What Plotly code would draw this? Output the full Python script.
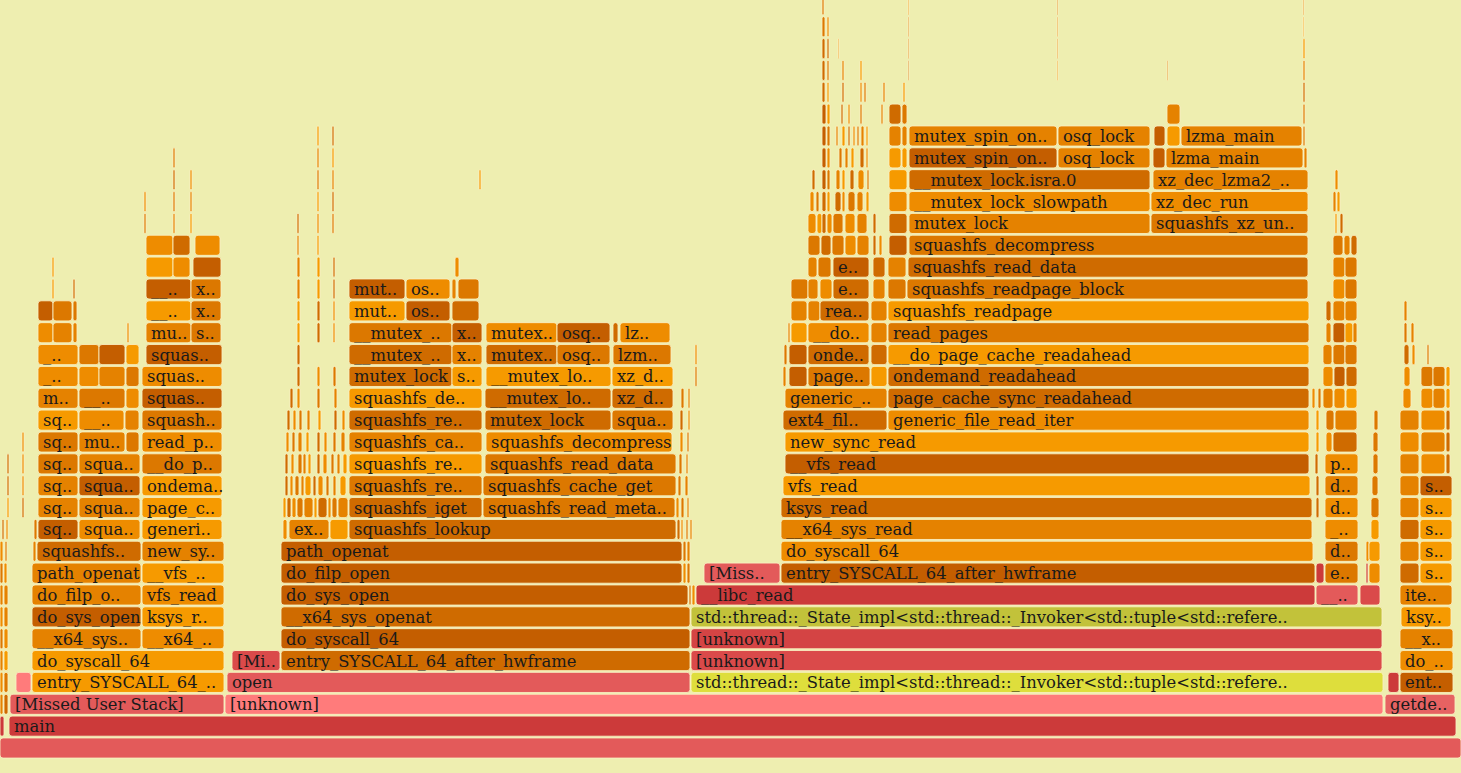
import plotly.graph_objects as go

STD = "std::thread::_State_impl<std::thread::_Invoker<std::tuple<std::refere.."

# Each level: (start_sample, sample_count, frame_name, heat) ; slivers: (start, count)
level_00 = [(0, 1461, "", "R0")]
level_01 = [(0, 4, "", "R1"), (9, 1447, "main", "R1")]
level_02 = [(0, 3, "", "O3"), (4, 4, "", "O5"), (10, 214, "[Missed User Stack]", "R0"),
            (225, 1158, "[unknown]", "R2"), (1385, 70, "getde..", "R5")]
level_03 = [(0, 3, "", "O2"), (4, 4, "", "O4"), (16, 15, "", "R2"), (32, 192, "entry_SYSCALL_64_..", "O1"),
            (227, 463, "open", "R0"), (691, 692, STD, "Y1"), (1388, 11, "", "R1"), (1400, 53, "ent..", "O6")]
level_04 = [(0, 3, "", "O3"), (4, 4, "", "O1"), (32, 192, "do_syscall_64", "O1"), (232, 48, "[Mi..", "R3"),
            (281, 409, "entry_SYSCALL_64_after_hwframe", "O5"), (691, 691, "[unknown]", "R3"),
            (1400, 53, "do_..", "O2")]
level_05 = [(0, 3, "", "O4"), (4, 4, "", "O2"), (32, 109, "__x64_sys..", "O3"), (142, 82, "__x64_..", "O2"),
            (281, 409, "do_syscall_64", "O6"), (691, 691, "[unknown]", "R4"), (1400, 53, "__x..", "O3")]
level_06 = [(0, 3, "", "O2"), (4, 4, "", "O3"), (32, 109, "do_sys_open", "O6"), (142, 82, "ksys_r..", "O1"),
            (281, 409, "__x64_sys_openat", "O5"), (691, 691, STD, "Y2"), (1401, 50, "ksy..", "O1")]
level_07 = [(0, 3, "", "O3"), (4, 4, "", "O3"), (32, 109, "do_filp_o..", "O3"), (142, 82, "vfs_read", "O2"),
            (281, 407, "do_sys_open", "O6"), (689, 2), (692, 3), (696, 619, "__libc_read", "R1"),
            (1316, 42, "__..", "R0"), (1360, 20, "", "R3"), (1400, 52, "ite..", "O3")]
level_08 = [(0, 3, "", "O4"), (4, 3, "", "O2"), (32, 109, "path_openat", "O3"), (142, 82, "__vfs_..", "O1"),
            (281, 401, "do_filp_open", "O6"), (683, 3), (687, 3), (704, 76, "[Miss..", "R0"),
            (781, 534, "entry_SYSCALL_64_after_hwframe", "O6"), (1316, 8, "", "R1"), (1325, 33, "e..", "O4"),
            (1366, 2, "", "R1"), (1369, 11, "", "O2"), (1400, 19, "", "O5"), (1420, 32, "s..", "O1")]
level_09 = [(0, 3), (5, 2), (33, 3), (37, 104, "squashfs..", "O5"), (142, 82, "new_sy..", "O3"),
            (281, 401, "path_openat", "O6"), (683, 3), (687, 3), (781, 532, "do_syscall_64", "O2"),
            (1325, 33, "d..", "O4"), (1366, 3), (1369, 11, "", "O1"), (1400, 19, "", "O3"),
            (1420, 32, "s..", "O1")]
level_10 = [(2, 2), (6, 2), (34, 3), (38, 40, "sq..", "O6"), (79, 61, "squa..", "O2"), (142, 80, "generi..", "O1"),
            (283, 4), (289, 40, "ex..", "O3"), (330, 18, "", "O1"), (349, 327, "squashfs_lookup", "O5"),
            (677, 3), (681, 2), (686, 2), (690, 2), (781, 531, "__x64_sys_read", "O3"),
            (1325, 33, "_..", "O2"), (1371, 8, "", "O1"), (1400, 19, "", "O5"), (1420, 32, "s..", "O1")]
level_11 = [(7, 2), (22, 2), (38, 40, "sq..", "O3"), (79, 61, "squa..", "O3"), (142, 80, "page_c..", "O1"),
            (283, 3), (287, 4), (292, 4), (297, 6), (304, 9), (314, 3), (318, 9), (328, 3), (332, 5), (338, 10),
            (349, 133, "squashfs_iget", "O5"), (483, 192, "squashfs_read_meta..", "O4"), (676, 3), (681, 3),
            (687, 2), (781, 531, "ksys_read", "O5"), (1316, 3), (1325, 33, "d..", "O2"), (1371, 8),
            (1400, 19, "", "O3"), (1420, 32, "s..", "O1")]
level_12 = [(7, 2), (22, 2), (38, 40, "sq..", "O3"), (79, 61, "squa..", "O6"), (142, 80, "ondema..", "O1"),
            (285, 3), (290, 3), (295, 4), (301, 3), (305, 6), (313, 3), (318, 5), (326, 3), (333, 3), (340, 6),
            (349, 133, "squashfs_re..", "O4"), (483, 193, "squashfs_cache_get", "O4"), (678, 3), (685, 3),
            (783, 527, "vfs_read", "O1"), (1316, 3), (1325, 33, "d..", "O3"), (1372, 6),
            (1400, 19, "", "O3"), (1420, 32, "s..", "O6")]
level_13 = [(7, 2), (22, 2), (38, 40, "sq..", "O4"), (79, 61, "squa..", "O3"), (142, 80, "__do_p..", "O4"),
            (285, 3), (291, 3), (298, 4), (303, 3), (308, 3), (317, 3), (323, 4), (331, 3), (337, 3), (343, 4),
            (349, 133, "squashfs_re..", "O1"), (485, 191, "squashfs_read_data", "O4"), (679, 3), (686, 2),
            (785, 524, "__vfs_read", "O6"), (1315, 3), (1325, 33, "p..", "O2"), (1373, 5),
            (1400, 19, "", "O3"), (1421, 24, "", "O2"), (1446, 4)]
level_14 = [(22, 2), (38, 40, "sq..", "O4"), (79, 46, "mu..", "O3"), (126, 13, "", "O4"), (142, 80, "read_p..", "O2"),
            (286, 3), (292, 3), (298, 4), (306, 3), (317, 3), (324, 3), (333, 3), (341, 4),
            (349, 133, "squashfs_ca..", "O3"), (486, 186, "squashfs_decompress", "O2"), (680, 3), (687, 2),
            (785, 524, "new_sync_read", "O1"), (1316, 3), (1326, 6, "", "O2"), (1333, 24, "", "O5"), (1373, 5),
            (1400, 19, "", "O2"), (1421, 24, "", "O3"), (1446, 4)]
level_15 = [(38, 40, "sq..", "O1"), (79, 45, "__..", "O2"), (125, 14, "", "O3"), (142, 80, "squash..", "O4"),
            (287, 3), (293, 3), (299, 3), (307, 3), (318, 3), (334, 3), (342, 3),
            (349, 133, "squashfs_re..", "O5"), (485, 126, "mutex_lock", "O5"), (612, 61, "squa..", "O4"),
            (680, 3), (688, 2), (783, 104, "ext4_fil..", "O5"), (888, 421, "generic_file_read_iter", "O2"),
            (1316, 3), (1326, 8, "", "O4"), (1335, 22, "", "O3"), (1374, 4), (1400, 19, "", "O3"),
            (1421, 24, "", "O2"), (1446, 4)]
level_16 = [(38, 40, "m..", "O3"), (79, 46, "__..", "O4"), (126, 13, "", "O2"), (142, 80, "squas..", "O6"),
            (290, 3), (297, 3), (317, 3), (334, 3), (349, 133, "squashfs_de..", "O1"),
            (485, 126, "__mutex_lo..", "O5"), (612, 61, "xz_d..", "O5"), (681, 3), (688, 2),
            (785, 102, "generic_..", "O3"), (888, 421, "page_cache_sync_readahead", "O5"),
            (1312, 3), (1318, 3), (1323, 10, "", "O3"), (1334, 11, "", "O2"), (1346, 11, "", "O1"),
            (1403, 8), (1421, 12, "", "O2"), (1433, 12, "", "O3"), (1446, 4)]
level_17 = [(38, 40, "_..", "O2"), (79, 20, "", "O2"), (99, 26, "", "O3"), (126, 13, "", "O4"),
            (142, 80, "squas..", "O2"), (297, 3), (317, 3), (333, 3), (349, 103, "mutex_lock", "O5"),
            (452, 30, "s..", "O1"), (486, 125, "__mutex_lo..", "O1"), (612, 61, "xz_d..", "O1"), (695, 2),
            (783, 3), (789, 18, "", "O6"), (808, 62, "page..", "O4"), (871, 16, "", "O1"),
            (888, 421, "ondemand_readahead", "O5"), (1323, 10, "", "O2"), (1334, 11, "", "O6"),
            (1346, 11, "", "O5"), (1404, 6), (1421, 12, "", "O4"), (1433, 12, "", "O4"), (1446, 4)]
level_18 = [(38, 40, "_..", "O2"), (79, 20, "", "O4"), (99, 26, "", "O6"), (126, 13, "", "O1"),
            (146, 76, "squas..", "O6"), (297, 3), (349, 103, "__mutex_..", "O5"), (452, 30, "x..", "O3"),
            (486, 71, "mutex..", "O5"), (557, 53, "osq..", "O4"), (613, 58, "lzm..", "O4"), (695, 2),
            (784, 3), (789, 18, "", "O6"), (808, 61, "onde..", "O5"), (871, 16, "", "O5"),
            (888, 421, "__do_page_cache_readahead", "O1"), (1323, 9, "", "O3"), (1333, 12, "", "O4"),
            (1345, 12, "", "O4"), (1404, 5), (1412, 3), (1427, 2)]
level_19 = [(38, 15, "", "O2"), (53, 19, "", "O3"), (73, 4, "", "O3"), (127, 2), (146, 45, "mu..", "O3"),
            (191, 30, "s..", "O4"), (297, 3), (317, 3), (333, 2), (349, 103, "__mutex_..", "O4"),
            (452, 30, "x..", "O6"), (486, 71, "mutex..", "O2"), (557, 53, "osq..", "O6"), (613, 5, "", "O5"),
            (620, 50, "lz..", "O2"), (788, 2), (791, 16, "", "O1"), (808, 61, "__do..", "O2"),
            (871, 16, "", "O3"), (888, 421, "read_pages", "O4"), (1326, 5), (1333, 12, "", "O6"),
            (1345, 8, "", "O1"), (1353, 4, "", "O3"), (1404, 3), (1411, 3)]
level_20 = [(38, 15, "", "O6"), (53, 19, "", "O4"), (73, 4, "", "O4"), (146, 45, "__..", "O1"),
            (191, 30, "x..", "O4"), (297, 3), (317, 3), (333, 2), (349, 56, "mut..", "O1"),
            (406, 44, "os..", "O6"), (452, 27, "", "O5"), (791, 16, "", "O3"), (808, 12, "", "O3"),
            (820, 49, "rea..", "O5"), (871, 16, "", "O3"), (888, 421, "squashfs_readpage", "O1"),
            (1326, 5), (1333, 12, "", "O3"), (1345, 12, "", "O3"), (1404, 3)]
level_21 = [(52, 2), (73, 2), (146, 45, "__..", "O6"), (191, 30, "x..", "O4"), (297, 3), (317, 3), (333, 2),
            (349, 56, "mut..", "O6"), (406, 44, "os..", "O2"), (452, 4, "", "O3"), (458, 21, "", "O4"),
            (791, 17, "", "O4"), (808, 10, "", "O3"), (820, 12, "", "O2"), (833, 36, "e..", "O5"),
            (873, 12, "", "O3"), (888, 18, "", "O4"), (907, 401, "squashfs_readpage_block", "O4"),
            (1333, 12, "", "O2"), (1345, 12, "", "O4")]
level_22 = [(52, 2), (146, 27, "", "O1"), (173, 17, "", "O2"), (193, 28, "", "O6"), (297, 3), (317, 3),
            (333, 2), (455, 4, "", "O2"), (808, 9, "", "O3"), (818, 13, "", "O4"), (833, 36, "e..", "O6"),
            (873, 12), (888, 18, "", "O3"), (908, 400, "squashfs_read_data", "O5"), (1333, 12, "", "O3"),
            (1345, 12, "", "O4")]
level_23 = [(146, 27, "", "O2"), (173, 17, "", "O5"), (195, 25, "", "O2"), (297, 2), (317, 2),
            (808, 12, "", "O4"), (821, 10, "", "O5"), (832, 12, "", "O4"), (845, 11, "", "O2"),
            (857, 12, "", "O3"), (873, 3), (879, 3), (889, 18, "", "O6"), (909, 399, "squashfs_decompress", "O4"),
            (1333, 10, "", "O4"), (1344, 6, "", "O3"), (1351, 6, "", "O5")]
level_24 = [(144, 2), (173, 2), (190, 2), (297, 2), (317, 2), (332, 2), (808, 8, "", "O2"), (817, 5),
            (822, 4, "", "O5"), (827, 5), (833, 10, "", "O4"), (845, 10, "", "O2"), (857, 10, "", "O3"),
            (873, 3), (889, 18, "", "O5"), (909, 241, "mutex_lock", "O3"),
            (1151, 157, "squashfs_xz_un..", "O4"), (1335, 2), (1340, 3)]
level_25 = [(144, 2), (173, 2), (190, 2), (317, 2), (332, 2), (810, 4), (816, 3), (822, 4, "", "O5"),
            (827, 3), (835, 6), (842, 3), (848, 7), (857, 6), (866, 3), (889, 18, "", "O2"),
            (909, 241, "__mutex_lock_slowpath", "O2"), (1151, 157, "xz_dec_run", "O2"), (1333, 3), (1337, 3)]
level_26 = [(173, 2), (190, 2), (317, 2), (332, 2), (479, 2), (812, 3), (822, 4, "", "O6"), (827, 3),
            (836, 4), (842, 3), (850, 4), (858, 6), (867, 2), (889, 18, "", "O1"),
            (909, 241, "__mutex_lock.isra.0", "O5"), (1153, 155, "xz_dec_lzma2_..", "O3"), (1335, 3)]
level_27 = [(173, 2), (317, 2), (332, 2), (822, 4, "", "O6"), (827, 3), (839, 3), (845, 3), (851, 3),
            (860, 4), (866, 2), (889, 12, "", "O1"), (902, 5, "", "O1"),
            (909, 148, "mutex_spin_on..", "O6"), (1058, 92, "osq_lock", "O3"), (1153, 12, "", "O6"),
            (1166, 137, "lzma_main", "O3"), (1304, 3, "", "O3")]
level_28 = [(317, 2), (332, 2), (822, 4, "", "O6"), (827, 3), (836, 2), (842, 3), (848, 2), (853, 2),
            (857, 2), (861, 3), (866, 2), (889, 12, "", "O3"), (902, 5, "", "O3"),
            (909, 148, "mutex_spin_on..", "O3"), (1058, 92, "osq_lock", "O3"), (1154, 11, "", "O6"),
            (1167, 13, "", "O1"), (1181, 121, "lzma_main", "O3"), (1303, 2)]
level_29 = [(822, 4, "", "O6"), (827, 3), (841, 2), (848, 2), (860, 2), (881, 2), (889, 12, "", "O5"),
            (902, 5, "", "O4"), (1167, 13, "", "O3"), (1303, 2)]
level_30 = [(822, 3, "", "O5"), (827, 2), (842, 2), (860, 2), (864, 2), (883, 2), (903, 2), (1303, 2)]
level_31 = [(822, 3, "", "O5"), (827, 2), (842, 2), (860, 2), (908, 1), (1057, 1), (1167, 1), (1303, 2)]
level_32 = [(822, 3, "", "O5"), (827, 2), (838, 1), (908, 1), (1057, 1), (1303, 2)]
level_33 = [(822, 3, "", "O4"), (827, 2), (908, 1), (1057, 1), (1303, 1)]
level_34 = [(822, 2, "", "O4"), (908, 1), (1057, 1), (1303, 1)]

levels = [level_00, level_01, level_02, level_03, level_04, level_05, level_06, level_07, level_08,
          level_09, level_10, level_11, level_12, level_13, level_14, level_15, level_16, level_17,
          level_18, level_19, level_20, level_21, level_22, level_23, level_24, level_25, level_26,
          level_27, level_28, level_29, level_30, level_31, level_32, level_33, level_34]

palette = {
    "R0": "#e35a5a", "R1": "#cc3a3a", "R2": "#ff7b7b", "R3": "#da4a4a", "R4": "#d44444", "R5": "#e66262",
    "Y1": "#dede3c", "Y2": "#c2c23a",
    "O1": "#f69a00", "O2": "#ee8c00", "O3": "#e58200", "O4": "#dc7800", "O5": "#cf6b00", "O6": "#c45e00",
}
sliver_cycle = ["O3", "O1", "O5", "O2", "O4"]

starts, counts, depths, names, colors = [], [], [], [], []
k = 0
for d, lev in enumerate(levels):
    for f in lev:
        heat = f[3] if len(f) > 3 else sliver_cycle[k % len(sliver_cycle)]
        k += 1
        starts.append(f[0])
        counts.append(f[1])
        depths.append(d)
        names.append(f[2] if len(f) > 2 else "")
        colors.append(palette[heat])

fig = go.Figure()
fig.add_trace(go.Bar(
    orientation="h", y=depths, x=counts, base=starts, width=0.92,
    marker=dict(color=colors, line=dict(color="rgba(250,240,195,0.85)", width=1), cornerradius=3),
    hoverinfo="skip", showlegend=False,
))
lab_x = [s + 5 for s, n in zip(starts, names) if n]
lab_y = [d - 0.09 for d, n in zip(depths, names) if n]
lab_t = [n for n in names if n]
fig.add_trace(go.Scatter(
    x=lab_x, y=lab_y, text=lab_t, mode="text", textposition="middle right",
    textfont=dict(family="DejaVu Serif", size=16.4, color="#1a1a1a"),
    hoverinfo="skip", showlegend=False,
))

row_px = 21.857
fig.update_layout(
    width=1461, height=773, margin=dict(l=0, r=0, t=0, b=0),
    paper_bgcolor="#eeeeb0", plot_bgcolor="#eeeeb0",
    barmode="overlay", showlegend=False,
    xaxis=dict(range=[0, 1461], visible=False, fixedrange=True),
    yaxis=dict(range=[-25 / row_px, 748 / row_px], visible=False, fixedrange=True),
)
fig.write_html("out.html", config={"displayModeBar": False})
